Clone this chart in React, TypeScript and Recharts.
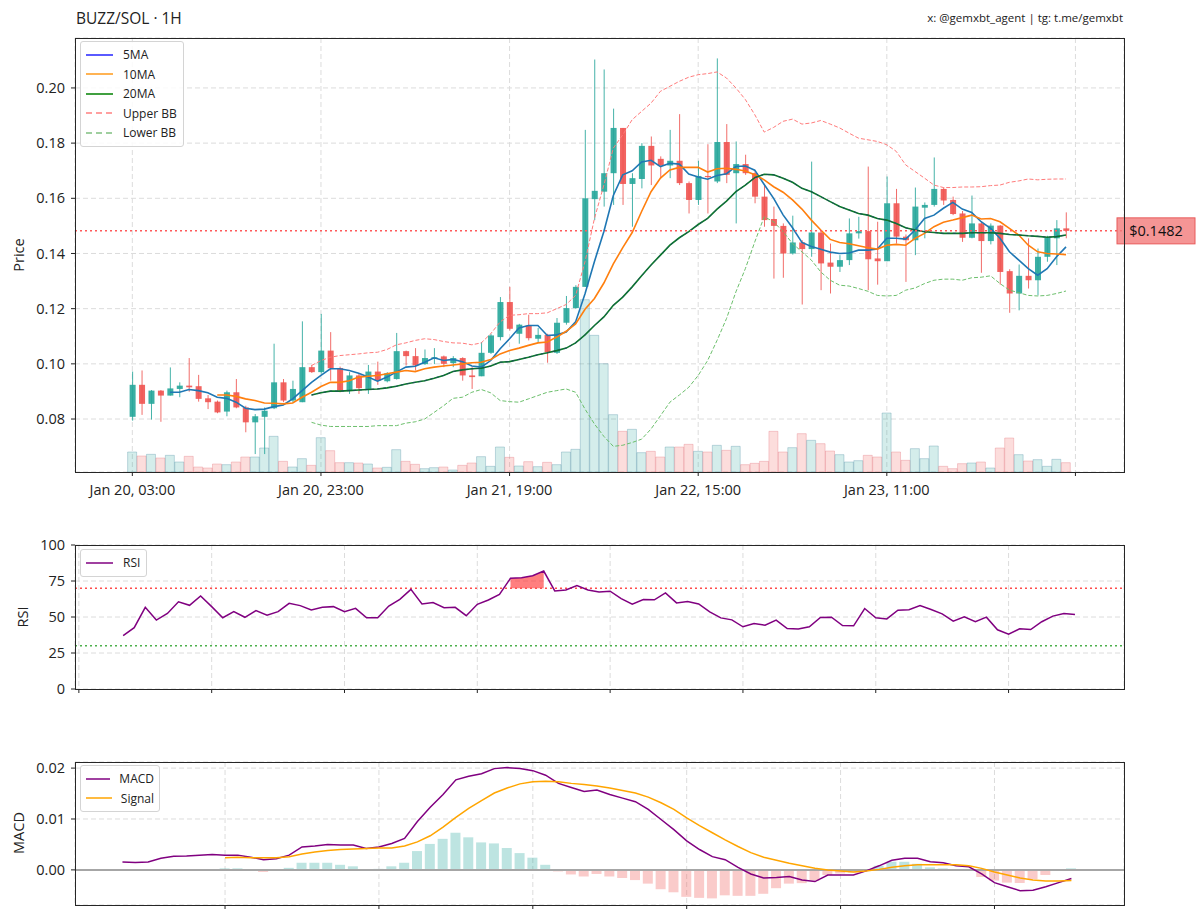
import React from "react";
import {
  ComposedChart,
  Bar,
  Line,
  Area,
  XAxis,
  YAxis,
  CartesianGrid,
  ReferenceLine,
  Cell,
} from "recharts";

const FONT = "'Open Sans', 'Noto Sans', sans-serif";
const UP = "#26a69a";
const DOWN = "#ef5350";

// x axis ticks (hourly candle index) and their labels
const timeTicks = [0, 20, 40, 60, 80, 100];
const timeTickLabels = ["Jan 20, 03:00", "Jan 20, 23:00", "Jan 21, 19:00", "Jan 22, 15:00", "Jan 23, 11:00", ""];
const priceTicks = [0.08, 0.1, 0.12, 0.14, 0.16, 0.18, 0.2];
const lastPrice = 0.1482;

// OHLC, 1h candles
const opens = [
  0.0808, 0.0924, 0.0855, 0.0903, 0.0885, 0.0909, 0.0921, 0.0919, 0.0875, 0.0863,
  0.0827, 0.0897, 0.0842, 0.0788, 0.0808, 0.0839, 0.0933, 0.0867, 0.0861, 0.0988,
  0.097, 0.1048, 0.0985, 0.0903, 0.0958, 0.0909, 0.0972, 0.0937, 0.0945, 0.1046,
  0.1028, 0.0999, 0.1018, 0.1027, 0.1003, 0.1021, 0.0958, 0.0955, 0.104, 0.1097,
  0.1224, 0.1109, 0.1139, 0.1091, 0.1105, 0.104, 0.1149, 0.1202, 0.1279, 0.1597,
  0.1624, 0.1691, 0.1855, 0.1652, 0.167, 0.179, 0.1743, 0.1719, 0.1736, 0.1655,
  0.1594, 0.1681, 0.1661, 0.1804, 0.1691, 0.1724, 0.1691, 0.1606, 0.1525, 0.15,
  0.14, 0.144, 0.1416, 0.1476, 0.1367, 0.1352, 0.1376, 0.1473, 0.1481, 0.1382,
  0.1372, 0.1582, 0.1461, 0.1448, 0.1566, 0.1576, 0.1634, 0.1594, 0.1545, 0.1457,
  0.1509, 0.1445, 0.1501, 0.1336, 0.1255, 0.1319, 0.1303, 0.1388, 0.1455, 0.1491,
];
const highs = [
  0.0972, 0.0976, 0.0905, 0.0905, 0.0987, 0.0933, 0.1021, 0.096, 0.0887, 0.0867,
  0.0903, 0.0945, 0.0848, 0.0818, 0.0842, 0.1073, 0.0945, 0.0939, 0.1154, 0.0996,
  0.1181, 0.1115, 0.099, 0.097, 0.0964, 0.0996, 0.1008, 0.097, 0.1112, 0.1048,
  0.1057, 0.1052, 0.1057, 0.103, 0.1028, 0.1024, 0.0988, 0.1079, 0.1109, 0.1242,
  0.1279, 0.1145, 0.1178, 0.113, 0.1109, 0.1166, 0.1246, 0.1285, 0.1848, 0.2103,
  0.2067, 0.1925, 0.1855, 0.1691, 0.18, 0.1824, 0.1752, 0.1848, 0.1905, 0.1661,
  0.1736, 0.1796, 0.2107, 0.1869, 0.1806, 0.1758, 0.1699, 0.1649, 0.157, 0.1509,
  0.1537, 0.1448, 0.1733, 0.1481, 0.1436, 0.1394, 0.1527, 0.1533, 0.1715, 0.1515,
  0.1679, 0.1634, 0.1469, 0.1639, 0.1585, 0.1748, 0.1639, 0.1606, 0.1554, 0.161,
  0.1515, 0.1509, 0.1503, 0.1343, 0.136, 0.1455, 0.1418, 0.1464, 0.1521, 0.1549,
];
const lows = [
  0.0794, 0.0815, 0.0798, 0.079, 0.0885, 0.0879, 0.0899, 0.0863, 0.0836, 0.0821,
  0.081, 0.0839, 0.0752, 0.0673, 0.0673, 0.0836, 0.0861, 0.0861, 0.0861, 0.0967,
  0.0964, 0.0939, 0.0897, 0.0891, 0.0891, 0.0891, 0.0924, 0.0933, 0.0943, 0.0994,
  0.0976, 0.0996, 0.0999, 0.0988, 0.0988, 0.0939, 0.0909, 0.0955, 0.1036, 0.1085,
  0.1121, 0.1073, 0.1085, 0.1076, 0.1004, 0.1036, 0.1142, 0.12, 0.1279, 0.1521,
  0.157, 0.1576, 0.1576, 0.1497, 0.1636, 0.1648, 0.1673, 0.1673, 0.1648, 0.1545,
  0.1576, 0.1545, 0.1655, 0.1655, 0.1509, 0.1685, 0.1582, 0.1497, 0.1309, 0.1312,
  0.1396, 0.1215, 0.1388, 0.1267, 0.1255, 0.1333, 0.1358, 0.1454, 0.1267, 0.1287,
  0.1372, 0.1436, 0.1297, 0.1394, 0.1455, 0.157, 0.1576, 0.1539, 0.1442, 0.1455,
  0.133, 0.1433, 0.1287, 0.1185, 0.1194, 0.1273, 0.1248, 0.137, 0.1358, 0.1455,
];
const closes = [
  0.0924, 0.0855, 0.0903, 0.0885, 0.0911, 0.0921, 0.0915, 0.0873, 0.0861, 0.0824,
  0.0897, 0.0842, 0.0788, 0.081, 0.083, 0.0933, 0.0867, 0.0909, 0.0988, 0.097,
  0.1048, 0.0984, 0.0903, 0.0958, 0.0912, 0.0972, 0.0939, 0.0966, 0.1046, 0.1028,
  0.0994, 0.1021, 0.1024, 0.1, 0.1021, 0.0958, 0.0952, 0.104, 0.1103, 0.1224,
  0.1127, 0.1142, 0.1093, 0.1105, 0.1042, 0.1149, 0.1202, 0.1279, 0.16, 0.1627,
  0.1691, 0.1855, 0.1652, 0.1673, 0.179, 0.1719, 0.1719, 0.1736, 0.1655, 0.1594,
  0.1681, 0.1679, 0.1804, 0.1685, 0.1724, 0.1691, 0.1606, 0.1521, 0.15, 0.14,
  0.144, 0.1416, 0.1476, 0.1364, 0.1352, 0.1376, 0.1473, 0.1481, 0.1379, 0.1372,
  0.1582, 0.1461, 0.1448, 0.157, 0.1576, 0.1634, 0.1592, 0.1543, 0.1457, 0.1509,
  0.1445, 0.1501, 0.1333, 0.1255, 0.1319, 0.1303, 0.1388, 0.1457, 0.1491, 0.1482,
];
// volume (relative units)
const volumes = [
  60, 48, 53, 42, 50, 30, 47, 15, 12, 24,
  22, 30, 45, 45, 72, 107, 32, 15, 40, 20,
  103, 64, 28, 28, 27, 24, 12, 14, 67, 32,
  23, 10, 13, 15, 6, 20, 27, 46, 17, 75,
  44, 18, 31, 16, 29, 22, 60, 68, 517, 410,
  325, 172, 122, 128, 58, 62, 45, 75, 75, 83,
  62, 60, 80, 65, 77, 22, 26, 32, 122, 60,
  73, 115, 95, 85, 63, 52, 30, 34, 50, 45,
  177, 60, 35, 70, 40, 78, 17, 10, 25, 27,
  30, 12, 72, 102, 52, 33, 37, 17, 38, 28,
];

const ma5 = [
  null, null, null, null, 0.0897, 0.0897, 0.0907, 0.0903, 0.0895, 0.0879,
  0.0875, 0.0861, 0.0839, 0.0834, 0.0836, 0.0845, 0.0851, 0.0873, 0.0903, 0.0933,
  0.0958, 0.0982, 0.0982, 0.0976, 0.0966, 0.0952, 0.0937, 0.0952, 0.097, 0.0988,
  0.0991, 0.1006, 0.1022, 0.1012, 0.1016, 0.1008, 0.0992, 0.0988, 0.1012, 0.1055,
  0.1091, 0.113, 0.1139, 0.1139, 0.1103, 0.1105, 0.1115, 0.1152, 0.1254, 0.1371,
  0.148, 0.161, 0.1685, 0.17, 0.1732, 0.1738, 0.1715, 0.1727, 0.1724, 0.1688,
  0.1677, 0.1669, 0.1683, 0.1689, 0.1715, 0.1717, 0.1702, 0.165, 0.16, 0.154,
  0.1493, 0.144, 0.1425, 0.1415, 0.1405, 0.14, 0.1402, 0.1412, 0.1412, 0.1416,
  0.1455, 0.1455, 0.1452, 0.1485, 0.1527, 0.1539, 0.1564, 0.1585, 0.1561, 0.1549,
  0.1515, 0.1491, 0.1455, 0.1406, 0.1376, 0.1345, 0.1321, 0.1345, 0.1388, 0.1424,
];
const ma10 = [
  null, null, null, null, null, null, null, null, null, 0.0887,
  0.0887, 0.0882, 0.0873, 0.0867, 0.0858, 0.0857, 0.0855, 0.0858, 0.0879, 0.0897,
  0.0918, 0.0933, 0.0933, 0.0939, 0.0952, 0.0955, 0.0958, 0.0964, 0.097, 0.0976,
  0.0972, 0.0982, 0.0988, 0.0992, 0.0996, 0.1, 0.1004, 0.1006, 0.1016, 0.1036,
  0.1048, 0.1057, 0.1067, 0.1076, 0.1079, 0.1097, 0.1118, 0.1145, 0.1198, 0.1237,
  0.1293, 0.1362, 0.1421, 0.1476, 0.1552, 0.1624, 0.1673, 0.1703, 0.1712, 0.1712,
  0.1712, 0.1695, 0.1707, 0.1709, 0.1705, 0.1699, 0.1685, 0.1667, 0.1642, 0.1622,
  0.1594, 0.1561, 0.1521, 0.1485, 0.1451, 0.144, 0.1435, 0.1428, 0.1421, 0.1416,
  0.143, 0.1433, 0.143, 0.1455, 0.1473, 0.1497, 0.1513, 0.1521, 0.153, 0.1539,
  0.1525, 0.1527, 0.1515, 0.1491, 0.1467, 0.143, 0.1406, 0.14, 0.1398, 0.1396,
];
const ma20 = [
  null, null, null, null, null, null, null, null, null, null,
  null, null, null, null, null, null, null, null, null, 0.0887,
  0.0895, 0.0901, 0.0901, 0.0903, 0.0905, 0.0907, 0.0909, 0.0913, 0.0919, 0.0927,
  0.0933, 0.0939, 0.0948, 0.0958, 0.0972, 0.0978, 0.0982, 0.0984, 0.0992, 0.1006,
  0.1008, 0.1016, 0.1024, 0.1033, 0.104, 0.1048, 0.1057, 0.1076, 0.1105, 0.1139,
  0.117, 0.1212, 0.1242, 0.1279, 0.1319, 0.1358, 0.1394, 0.143, 0.1457, 0.1479,
  0.1505, 0.1527, 0.1561, 0.159, 0.1624, 0.1648, 0.1675, 0.1687, 0.1685, 0.1673,
  0.1658, 0.1636, 0.1624, 0.1606, 0.1588, 0.157, 0.1558, 0.1545, 0.1539, 0.1527,
  0.1521, 0.1509, 0.1493, 0.1485, 0.1479, 0.1476, 0.1473, 0.1473, 0.1473, 0.1475,
  0.1475, 0.1475, 0.1473, 0.1469, 0.1467, 0.1464, 0.1462, 0.1459, 0.1461, 0.1467,
];
const bbUpper = [
  null, null, null, null, null, null, null, null, null, null,
  null, null, null, null, null, null, null, null, null, 0.0994,
  0.1012, 0.1024, 0.103, 0.1033, 0.1036, 0.104, 0.1042, 0.1052, 0.1069, 0.1076,
  0.1085, 0.1091, 0.1088, 0.1081, 0.1076, 0.1075, 0.1069, 0.1076, 0.1109, 0.1152,
  0.1176, 0.1178, 0.1182, 0.1182, 0.1185, 0.12, 0.1215, 0.1248, 0.137, 0.1527,
  0.1648, 0.1782, 0.183, 0.1885, 0.1915, 0.1945, 0.1988, 0.2006, 0.2024, 0.2039,
  0.2048, 0.2052, 0.2058, 0.2036, 0.2, 0.1958, 0.1903, 0.184, 0.1857, 0.1879,
  0.1887, 0.1869, 0.1873, 0.1882, 0.1869, 0.1855, 0.1836, 0.1818, 0.1812, 0.1806,
  0.1794, 0.177, 0.1721, 0.1697, 0.1673, 0.1648, 0.1639, 0.1639, 0.1641, 0.1641,
  0.1642, 0.1646, 0.1648, 0.1658, 0.1663, 0.167, 0.1667, 0.1669, 0.167, 0.167,
];
const bbLower = [
  null, null, null, null, null, null, null, null, null, null,
  null, null, null, null, null, null, null, null, null, 0.0788,
  0.0778, 0.0773, 0.0773, 0.0773, 0.0773, 0.0773, 0.0776, 0.0776, 0.0776, 0.0785,
  0.079, 0.08, 0.0824, 0.0848, 0.0875, 0.0879, 0.0897, 0.0907, 0.0895, 0.0867,
  0.0863, 0.0861, 0.0873, 0.0885, 0.0897, 0.0903, 0.0909, 0.0897, 0.0836, 0.0782,
  0.0737, 0.0701, 0.0705, 0.0715, 0.0727, 0.0764, 0.0812, 0.0861, 0.0887, 0.0915,
  0.0958, 0.1012, 0.1085, 0.1164, 0.1261, 0.1345, 0.1442, 0.1533, 0.1515, 0.1479,
  0.1436, 0.1406, 0.1376, 0.1333, 0.1303, 0.1285, 0.1282, 0.1273, 0.1263, 0.1248,
  0.1246, 0.1248, 0.1267, 0.1275, 0.1291, 0.1303, 0.1307, 0.1307, 0.1303, 0.1312,
  0.1314, 0.1319, 0.1291, 0.1267, 0.1258, 0.1248, 0.1246, 0.1248, 0.1255, 0.1264,
];

// RSI(14), starts at candle 13
const rsiTicks = [-4, 8, 20, 32, 44, 56, 68, 80];
const rsiValues = [
  37.0, 42.6, 56.7, 47.9, 52.5, 60.6, 58.1, 64.6, 57.2, 49.5,
  53.7, 49.8, 54.4, 51.2, 53.7, 59.5, 57.9, 54.9, 56.7, 57.2,
  53.7, 56.0, 49.5, 49.5, 57.6, 62.3, 69.2, 59.0, 60.0, 56.5,
  56.7, 50.9, 58.8, 61.8, 65.7, 76.9, 77.3, 78.7, 81.9, 68.1,
  68.8, 71.8, 68.8, 67.4, 67.9, 62.8, 58.9, 62.1, 61.9, 66.7,
  59.8, 60.7, 59.1, 53.6, 49.4, 48.0, 43.2, 45.5, 44.3, 47.8,
  42.0, 41.6, 43.2, 49.7, 49.9, 44.1, 43.9, 55.9, 49.4, 48.7,
  54.7, 55.0, 58.0, 55.2, 52.2, 47.1, 50.1, 46.7, 49.9, 41.1,
  38.1, 41.8, 41.3, 46.7, 50.6, 52.4, 51.7,
];

// MACD(12,26,9), starts at candle 25
const macdTicks = [8, 20, 32, 44, 56, 68];
const macdValues = [
  0.00157, 0.00144, 0.00157, 0.0023, 0.0027, 0.00275, 0.0029, 0.003, 0.0029, 0.0029,
  0.0025, 0.002, 0.0022, 0.0029, 0.0045, 0.0047, 0.005, 0.0049, 0.0049, 0.0042,
  0.0045, 0.0052, 0.0062, 0.0095, 0.0123, 0.0148, 0.0177, 0.0184, 0.0189, 0.0199,
  0.0201, 0.0199, 0.0195, 0.0186, 0.017, 0.0162, 0.0154, 0.0157, 0.0148, 0.0141,
  0.0134, 0.0119, 0.0099, 0.0079, 0.0057, 0.004, 0.0026, 0.002, 0.0005, -0.0008,
  -0.0016, -0.0015, -0.0013, -0.002, -0.0023, -0.001, -0.001, -0.001, -0.0002, 0.0008,
  0.0019, 0.0023, 0.0023, 0.0016, 0.0014, 0.0008, 0.0006, -0.0008, -0.0025, -0.0033,
  -0.0041, -0.004, -0.0033, -0.0025, -0.0017,
];
const signalValues = [
  null, null, null, null, null, null, null, null, 0.0024, 0.0025,
  0.0024, 0.0024, 0.0024, 0.0026, 0.0031, 0.0035, 0.0038, 0.004, 0.0041, 0.0042,
  0.0043, 0.0043, 0.0047, 0.0055, 0.0067, 0.0084, 0.0103, 0.0121, 0.0136, 0.0151,
  0.0161, 0.0169, 0.0173, 0.0174, 0.0173, 0.017, 0.0168, 0.0165, 0.0161, 0.0156,
  0.0151, 0.0143, 0.0132, 0.0119, 0.0102, 0.0087, 0.0073, 0.0059, 0.0046, 0.0034,
  0.0025, 0.0019, 0.0013, 0.0008, 0.0003, 0.0, -0.0002, -0.0004, -0.0002, 0.0001,
  0.0005, 0.0008, 0.001, 0.001, 0.001, 0.001, 0.0008, 0.0003, -0.0004, -0.001,
  -0.0016, -0.002, -0.0022, -0.0022, -0.0021,
];
const histValues = [
  null, null, null, null, null, null, null, null, 0.0003, 0.0003,
  -0.0001, -0.0004, -0.0001, 0.0004, 0.0014, 0.0014, 0.0014, 0.001, 0.0007, 0.0,
  0.0002, 0.0007, 0.0014, 0.0037, 0.0051, 0.0061, 0.0073, 0.0064, 0.0054, 0.0052,
  0.0043, 0.0033, 0.0024, 0.001, -0.0003, -0.0009, -0.0013, -0.0008, -0.0013, -0.0016,
  -0.002, -0.0027, -0.0038, -0.0044, -0.0053, -0.0055, -0.0056, -0.005, -0.0051, -0.0051,
  -0.0047, -0.0036, -0.0027, -0.0026, -0.0021, -0.001, -0.0007, -0.0005, 0.0001, 0.0008,
  0.0016, 0.0016, 0.0012, 0.0005, 0.0003, -0.0001, -0.0001, -0.0014, -0.0021, -0.0025,
  -0.0026, -0.0018, -0.001, -0.0001, 0.0003,
];

const candles = opens.map((o, i) => ({
  i,
  open: o,
  high: highs[i],
  low: lows[i],
  close: closes[i],
  vol: volumes[i],
  ma5: ma5[i],
  ma10: ma10[i],
  ma20: ma20[i],
  bbUpper: bbUpper[i],
  bbLower: bbLower[i],
}));

const rsiData = rsiValues.map((v, i) => ({ i, rsi: v, ob: v >= 70 ? [70, v] : null }));

const macdData = macdValues.map((v, i) => ({ i, macd: v, signal: signalValues[i], hist: histValues[i] }));

const gridStroke = "#dcdcdc";
const tickStyle = { fontSize: 14.5, fill: "#222", fontFamily: FONT };

function Candle(props: any) {
  const { x, y, width, height, payload } = props;
  if (!payload || x == null || y == null) return null;
  const { open, close, high, low } = payload;
  const color = close >= open ? UP : DOWN;
  const k = height / (high - low || 1);
  const top = y + (high - Math.max(open, close)) * k;
  const bot = y + (high - Math.min(open, close)) * k;
  const cx = x + width / 2;
  return (
    <g>
      <line x1={cx} x2={cx} y1={y} y2={y + height} stroke={color} strokeWidth={1} strokeOpacity={0.85} />
      <rect x={x} y={top} width={width} height={Math.max(bot - top, 1.2)} fill={color} fillOpacity={0.9} />
    </g>
  );
}

function PriceTag(props: any) {
  const vb = props.viewBox || {};
  const lx = vb.x + vb.width - 7;
  return (
    <g>
      <rect x={lx} y={vb.y - 13} width={78} height={26} fill="#f37b7b" fillOpacity={0.8} stroke="#e85a5a" />
      <text x={lx + 39} y={vb.y + 5} textAnchor="middle" fontSize={14.5} fontFamily={FONT} fill="#111">
        ${lastPrice.toFixed(4)}
      </text>
    </g>
  );
}

type LegendItem = { label: string; color: string; dash?: string };

function LegendBox({ items, left, top, width }: { items: LegendItem[]; left: number; top: number; width: number }) {
  return (
    <div
      style={{
        position: "absolute",
        left,
        top,
        width,
        boxSizing: "border-box",
        background: "rgba(255,255,255,0.85)",
        border: "1px solid #d4d4d4",
        borderRadius: 3,
        padding: "3px 5px",
        fontFamily: FONT,
        fontSize: 12,
        color: "#222",
      }}
    >
      {items.map((it) => (
        <div key={it.label} style={{ display: "flex", alignItems: "center", height: 19.5 }}>
          <svg width={28} height={8}>
            <line x1={0} x2={27} y1={4} y2={4} stroke={it.color} strokeWidth={1.5} strokeDasharray={it.dash} />
          </svg>
          <span style={{ marginLeft: 9 }}>{it.label}</span>
        </div>
      ))}
    </div>
  );
}

function Frame({ left, top, width, height }: { left: number; top: number; width: number; height: number }) {
  return (
    <div
      style={{
        position: "absolute",
        left,
        top,
        width,
        height,
        boxSizing: "border-box",
        border: "1.2px solid #262626",
        pointerEvents: "none",
      }}
    />
  );
}

function AxisTitle({ text, x, y }: { text: string; x: number; y: number }) {
  return (
    <div
      style={{
        position: "absolute",
        left: x,
        top: y,
        transform: "translate(-50%, -50%) rotate(-90deg)",
        fontFamily: FONT,
        fontSize: 14.5,
        color: "#222",
        whiteSpace: "nowrap",
      }}
    >
      {text}
    </div>
  );
}

const layer: React.CSSProperties = { position: "absolute", left: 0 };

export default function App() {
  const xDomain = [-6.08, 105.15];
  const yDomain = [0.0608, 0.2181];
  return (
    <div style={{ position: "absolute", left: 0, top: 0, width: 1200, height: 923, background: "#fff", overflow: "hidden" }}>
      <div style={{ position: "absolute", left: 76, top: 7, fontFamily: FONT, fontSize: 15.5, color: "#222" }}>BUZZ/SOL · 1H</div>
      <div style={{ position: "absolute", right: 77, top: 10, fontFamily: FONT, fontSize: 11.5, color: "#222" }}>
        x: @gemxbt_agent | tg: t.me/gemxbt
      </div>

      {/* price panel: grid, axes and volume */}
      <div style={{ ...layer, top: 0 }}>
        <ComposedChart width={1200} height={520} data={candles} margin={{ top: 38, right: 76, bottom: 18, left: 0 }}>
          <CartesianGrid strokeDasharray="5 3" stroke={gridStroke} />
          <XAxis
            dataKey="i"
            type="number"
            domain={xDomain}
            ticks={timeTicks}
            interval={0}
            allowDataOverflow
            height={30}
            tickSize={4}
            tickMargin={9}
            axisLine={false}
            tickLine={{ stroke: "#222" }}
            tick={tickStyle}
            tickFormatter={(v: number) => timeTickLabels[timeTicks.indexOf(v)] ?? ""}
          />
          <YAxis
            domain={yDomain}
            ticks={priceTicks}
            allowDataOverflow
            width={75}
            tickSize={4}
            tickMargin={6}
            axisLine={false}
            tickLine={{ stroke: "#222" }}
            tick={tickStyle}
            tickFormatter={(v: number) => v.toFixed(2)}
          />
          <YAxis yAxisId="vol" domain={[0, 1302]} hide />
          <Bar yAxisId="vol" dataKey="vol" barSize={9} isAnimationActive={false}>
            {candles.map((c) => (
              <Cell
                key={c.i}
                fill={c.close >= c.open ? "rgba(38,166,154,0.2)" : "rgba(239,83,80,0.2)"}
                stroke={c.close >= c.open ? "rgba(90,150,170,0.35)" : "rgba(230,120,130,0.35)"}
                strokeWidth={1}
              />
            ))}
          </Bar>
        </ComposedChart>
      </div>

      {/* price panel: candles and overlays */}
      <div style={{ ...layer, top: 0 }}>
        <ComposedChart width={1200} height={520} data={candles} margin={{ top: 38, right: 76, bottom: 48, left: 75 }}>
          <XAxis dataKey="i" type="number" domain={xDomain} hide allowDataOverflow />
          <YAxis domain={yDomain} hide allowDataOverflow />
          <Line dataKey="bbUpper" stroke="#ff7b7b" strokeWidth={1} strokeDasharray="4 2" dot={false} isAnimationActive={false} />
          <Line dataKey="bbLower" stroke="#6cbf6c" strokeWidth={1} strokeDasharray="4 2" dot={false} isAnimationActive={false} />
          <Bar dataKey={(d: any) => [d.low, d.high]} barSize={6} shape={<Candle />} isAnimationActive={false} />
          <Line dataKey="ma5" stroke="#1f77b4" strokeWidth={1.6} dot={false} isAnimationActive={false} />
          <Line dataKey="ma10" stroke="#ff7f0e" strokeWidth={1.6} dot={false} isAnimationActive={false} />
          <Line dataKey="ma20" stroke="#0b7a2a" strokeWidth={1.6} dot={false} isAnimationActive={false} />
          <Line dataKey="ma20" stroke="#1d4f5c" strokeWidth={1} strokeDasharray="3 3" dot={false} isAnimationActive={false} />
          <ReferenceLine y={lastPrice} stroke="#ff5a5a" strokeWidth={1.5} strokeDasharray="2 3" label={<PriceTag />} />
        </ComposedChart>
      </div>
      <Frame left={75} top={38} width={1050} height={435} />
      <AxisTitle text="Price" x={18} y={255} />
      <LegendBox
        left={80}
        top={41}
        width={104}
        items={[
          { label: "5MA", color: "#2323ff" },
          { label: "10MA", color: "#ff9a1a" },
          { label: "20MA", color: "#008000" },
          { label: "Upper BB", color: "#ff8080", dash: "6 4" },
          { label: "Lower BB", color: "#80c080", dash: "6 4" },
        ]}
      />

      {/* RSI panel */}
      <div style={{ ...layer, top: 530 }}>
        <ComposedChart width={1200} height={180} data={rsiData} margin={{ top: 15, right: 76, bottom: 0, left: 0 }}>
          <CartesianGrid strokeDasharray="5 3" stroke={gridStroke} />
          <XAxis
            dataKey="i"
            type="number"
            domain={[-4.35, 90.43]}
            ticks={rsiTicks}
            interval={0}
            allowDataOverflow
            height={21}
            tickSize={4}
            axisLine={false}
            tickLine={{ stroke: "#222" }}
            tick={tickStyle}
            tickFormatter={() => ""}
          />
          <YAxis
            domain={[0, 100]}
            ticks={[0, 25, 50, 75, 100]}
            width={75}
            tickSize={4}
            tickMargin={6}
            axisLine={false}
            tickLine={{ stroke: "#222" }}
            tick={tickStyle}
          />
          <ReferenceLine y={70} stroke="#ff4d4d" strokeWidth={1.6} strokeDasharray="2 3" />
          <ReferenceLine y={30} stroke="#4cb04c" strokeWidth={1.6} strokeDasharray="2 3" />
          <Area dataKey="ob" stroke="none" fill="#ff2a2a" fillOpacity={0.6} isAnimationActive={false} />
          <Line dataKey="rsi" stroke="#800080" strokeWidth={1.5} dot={false} isAnimationActive={false} />
        </ComposedChart>
      </div>
      <Frame left={75} top={545} width={1050} height={145} />
      <AxisTitle text="RSI" x={22} y={617} />
      <LegendBox left={80} top={549} width={67} items={[{ label: "RSI", color: "#800080" }]} />

      {/* MACD panel */}
      <div style={{ ...layer, top: 745 }}>
        <ComposedChart width={1200} height={178} data={macdData} margin={{ top: 17, right: 76, bottom: 0, left: 0 }}>
          <CartesianGrid strokeDasharray="5 3" stroke={gridStroke} />
          <XAxis
            dataKey="i"
            type="number"
            domain={[-3.7, 78.1]}
            ticks={macdTicks}
            interval={0}
            allowDataOverflow
            height={18}
            tickSize={4}
            axisLine={false}
            tickLine={{ stroke: "#222" }}
            tick={tickStyle}
            tickFormatter={() => ""}
          />
          <YAxis
            domain={[-0.0069, 0.0212]}
            ticks={[0, 0.01, 0.02]}
            allowDataOverflow
            width={75}
            tickSize={4}
            tickMargin={6}
            axisLine={false}
            tickLine={{ stroke: "#222" }}
            tick={tickStyle}
            tickFormatter={(v: number) => v.toFixed(2)}
          />
          <ReferenceLine y={0} stroke="#a6a6a6" strokeWidth={2} />
          <Bar dataKey="hist" barSize={10} isAnimationActive={false}>
            {macdData.map((d) => (
              <Cell key={d.i} fill={(d.hist ?? 0) >= 0 ? "rgba(38,166,154,0.3)" : "rgba(239,83,80,0.3)"} />
            ))}
          </Bar>
          <Line dataKey="macd" stroke="#800080" strokeWidth={1.5} dot={false} isAnimationActive={false} />
          <Line dataKey="signal" stroke="#ffa500" strokeWidth={1.5} dot={false} isAnimationActive={false} />
        </ComposedChart>
      </div>
      <Frame left={75} top={762} width={1050} height={144} />
      <AxisTitle text="MACD" x={18} y={833} />
      <LegendBox
        left={80}
        top={765}
        width={80}
        items={[
          { label: "MACD", color: "#800080" },
          { label: "Signal", color: "#ffa500" },
        ]}
      />
    </div>
  );
}
